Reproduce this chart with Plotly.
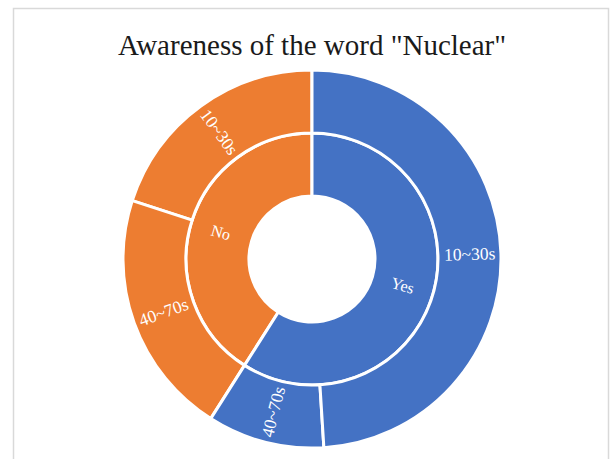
import math
import plotly.graph_objects as go

# Survey shares (%) by answer and age group
answers = ["Yes", "No"]
age_groups = ["10~30s", "40~70s"]
yes_values = [49, 10]   # 10~30s, 40~70s
no_values = [20, 21]    # 10~30s, 40~70s

BLUE = "#4472C4"
ORANGE = "#ED7D31"
LABEL_FONT = "Liberation Serif"

# A blank root node leaves the hole in the middle of the two rings
ids, labels, parents, values, colors = ["root"], [""], [""], [sum(yes_values) + sum(no_values)], ["white"]

# Sectors run counterclockwise from 12 o'clock, so "No" is listed first
ids.append("No"); labels.append("No"); parents.append("root"); values.append(sum(no_values)); colors.append(ORANGE)
for g, v in zip(age_groups, no_values):
    ids.append("No-" + g); labels.append(g); parents.append("No"); values.append(v); colors.append(ORANGE)

ids.append("Yes"); labels.append("Yes"); parents.append("root"); values.append(sum(yes_values)); colors.append(BLUE)
for g, v in reversed(list(zip(age_groups, yes_values))):
    ids.append("Yes-" + g); labels.append(g); parents.append("Yes"); values.append(v); colors.append(BLUE)

W, H = 610, 459
cx, cy, r = 312, 259, 189
ring = r / 3.0  # hole, inner ring and outer ring share the same width

fig = go.Figure(go.Sunburst(
    ids=ids,
    labels=labels,
    parents=parents,
    values=values,
    branchvalues="total",
    sort=False,
    rotation=90,
    leaf=dict(opacity=1),
    marker=dict(colors=colors, line=dict(color="white", width=3)),
    textinfo="none",
    domain=dict(x=[(cx - r) / W, (cx + r) / W], y=[(H - cy - r) / H, (H - cy + r) / H]),
    hoverinfo="label+value",
))


def radial_label(text, start, stop, depth, size):
    """Place a label at the middle of a sector, turned along its radius.

    start/stop are clockwise fractions of the full circle measured from 12 o'clock.
    """
    theta = (start + stop) / 2 * 360.0
    rad = ring * (depth + 0.5)
    t = math.radians(theta)
    px = cx + rad * math.sin(t)
    py = cy - rad * math.cos(t)
    angle = theta - 90 if theta < 180 else theta - 270
    fig.add_annotation(
        x=px / W, y=1 - py / H, xref="paper", yref="paper",
        text=text, showarrow=False, textangle=angle,
        xanchor="center", yanchor="middle",
        font=dict(family=LABEL_FONT, size=size, color="white"),
    )


total = sum(yes_values) + sum(no_values)
# Clockwise from 12 o'clock: Yes (10~30s, 40~70s), then No (40~70s, 10~30s)
pos = 0.0
yes_total = sum(yes_values) / total
radial_label("Yes", pos, pos + yes_total, 1, 16)
for g, v in zip(age_groups, yes_values):
    f = v / total
    radial_label(g, pos, pos + f, 2, 17.5)
    pos += f
no_total = sum(no_values) / total
radial_label("No", pos, pos + no_total, 1, 16)
for g, v in reversed(list(zip(age_groups, no_values))):
    f = v / total
    radial_label(g, pos, pos + f, 2, 17.5)
    pos += f

fig.update_layout(
    width=W,
    height=H,
    margin=dict(l=0, r=0, t=0, b=0),
    paper_bgcolor="white",
    plot_bgcolor="white",
    showlegend=False,
    title=dict(
        text='Awareness of the word "Nuclear"',
        x=312 / W,
        xanchor="center",
        y=1 - 45 / H,
        yanchor="middle",
        font=dict(family="Liberation Serif", size=29, color="#1a1a1a"),
    ),
    shapes=[dict(
        type="rect", xref="paper", yref="paper",
        x0=13.5 / W, x1=608.5 / W, y0=-0.05, y1=1 - 8.5 / H,
        line=dict(color="#d9d9d9", width=1.5),
        fillcolor="rgba(0,0,0,0)",
        layer="below",
    )],
)

fig.write_html("out.html")
